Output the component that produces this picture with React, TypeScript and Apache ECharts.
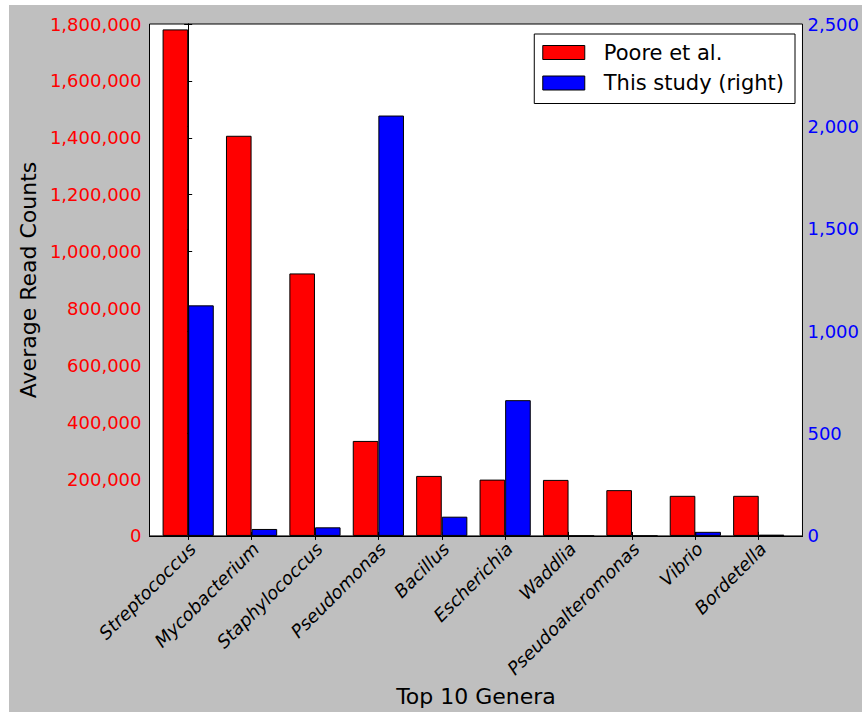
import React, { useEffect, useRef } from "react";
import * as echarts from "echarts";

const categories = [
  "Streptococcus",
  "Mycobacterium",
  "Staphylococcus",
  "Pseudomonas",
  "Bacillus",
  "Escherichia",
  "Waddlia",
  "Pseudoalteromonas",
  "Vibrio",
  "Bordetella",
];
const pooreValues = [1781000, 1407000, 923000, 334000, 211000, 198000, 197000, 161000, 141000, 141000];
const studyValues = [1126, 34, 42, 2053, 94, 663, 0, 0, 20, 6];
const seriesNames = ["Poore et al.", "This study (right)"];
const categoryIndex = categories.map((_, i) => i);

const FONT = "DejaVu Sans";

function fmt(v: number) {
  return Math.round(v).toString().replace(/\B(?=(\d{3})+(?!\d))/g, ",");
}

export default function App() {
  const ref = useRef<HTMLDivElement>(null);
  useEffect(() => {
    if (!ref.current) return;
    const chart = echarts.init(ref.current, null, { renderer: "svg" });
    const xCommon = {
      type: "value" as const,
      min: -0.61,
      max: 9.69,
      splitLine: { show: false },
      axisLine: { show: true, lineStyle: { color: "#000", width: 1 } },
    };
    chart.setOption({
      animation: false,
      backgroundColor: "#bfbfbf",
      textStyle: { fontFamily: FONT },
      grid: {
        left: 136,
        right: 57,
        top: 19,
        bottom: 175,
        show: true,
        backgroundColor: "#ffffff",
        borderColor: "#000",
        borderWidth: 1,
      },
      legend: {
        orient: "vertical",
        right: 67,
        top: 29,
        itemWidth: 42,
        itemHeight: 14,
        itemGap: 7.5,
        padding: [7, 11, 9, 8],
        backgroundColor: "#ffffff",
        borderColor: "#000",
        borderWidth: 1,
        borderRadius: 0,
        icon: "rect",
        itemStyle: { borderColor: "#000", borderWidth: 1 },
        textStyle: {
          fontFamily: FONT,
          fontSize: 21,
          lineHeight: 23,
          color: "#000",
          padding: [0, 0, 0, 14],
        },
        data: seriesNames,
      },
      xAxis: [
        {
          ...xCommon,
          position: "bottom",
          name: "Top 10 Genera",
          nameLocation: "middle",
          nameGap: 149,
          nameTextStyle: { fontFamily: FONT, fontSize: 22, color: "#000" },
          axisTick: {
            show: true,
            inside: true,
            length: 4,
            customValues: categoryIndex,
            lineStyle: { color: "#000" },
          },
          axisLabel: {
            show: true,
            customValues: categoryIndex,
            formatter: (v: number) => categories[Math.round(v)] ?? "",
            rotate: 45,
            fontStyle: "italic",
            fontFamily: FONT,
            fontSize: 18,
            color: "#000",
            margin: 14,
            padding: [0, -6, 0, 0],
          },
        },
        {
          ...xCommon,
          position: "top",
          axisTick: {
            show: true,
            inside: true,
            length: 4,
            customValues: categoryIndex,
            lineStyle: { color: "#000" },
          },
          axisLabel: { show: false },
        },
      ],
      yAxis: [
        {
          type: "value",
          min: 0,
          max: 1800000,
          interval: 200000,
          position: "left",
          name: "Average Read Counts",
          nameLocation: "middle",
          nameGap: 110,
          nameTextStyle: { fontFamily: FONT, fontSize: 22, color: "#000" },
          splitLine: { show: false },
          axisLine: { show: true, lineStyle: { color: "#000" } },
          axisTick: { show: true, inside: true, length: 4, lineStyle: { color: "#000" } },
          axisLabel: {
            color: "#ff0000",
            fontFamily: FONT,
            fontSize: 18,
            margin: 8,
            formatter: (v: number) => fmt(v),
          },
        },
        {
          type: "value",
          min: 0,
          max: 2500,
          interval: 500,
          position: "right",
          splitLine: { show: false },
          axisLine: { show: true, lineStyle: { color: "#000" } },
          axisTick: { show: true, inside: true, length: 4, lineStyle: { color: "#000" } },
          axisLabel: {
            color: "#0000ff",
            fontFamily: FONT,
            fontSize: 18,
            margin: 5,
            formatter: (v: number) => fmt(v),
          },
        },
      ],
      series: [
        {
          name: seriesNames[0],
          type: "bar",
          xAxisIndex: 0,
          yAxisIndex: 0,
          barWidth: 25.6,
          barGap: "0%",
          data: pooreValues.map((v, i) => [i, v]),
          itemStyle: { color: "#ff0000", borderColor: "#000", borderWidth: 1 },
        },
        {
          name: seriesNames[1],
          type: "bar",
          xAxisIndex: 0,
          yAxisIndex: 1,
          barWidth: 25.6,
          barGap: "0%",
          data: studyValues.map((v, i) => [i, v]),
          itemStyle: { color: "#0000ff", borderColor: "#000", borderWidth: 1 },
        },
      ],
    });
    return () => chart.dispose();
  }, []);
  return (
    <div style={{ position: "fixed", left: 0, top: 0, width: 862, height: 712, background: "#ffffff" }}>
      <div
        ref={ref}
        style={{ position: "absolute", left: 9, top: 5, width: 853, height: 707 }}
      />
    </div>
  );
}
